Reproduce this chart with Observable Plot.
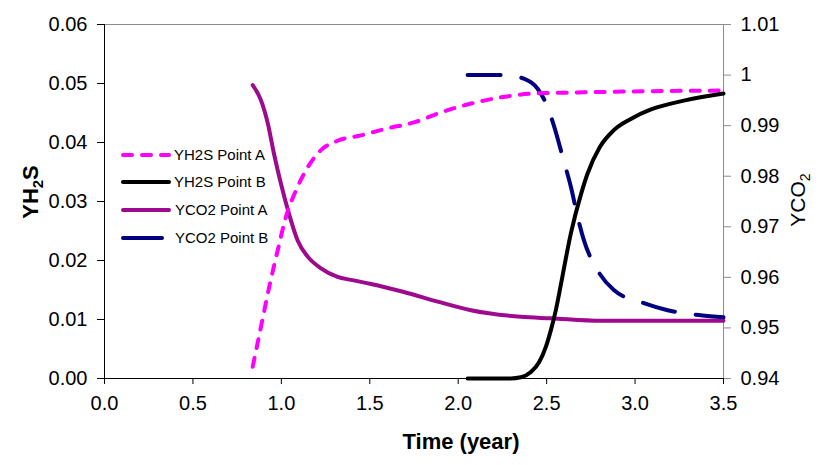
<!DOCTYPE html>
<html><head><meta charset="utf-8">
<script src="https://cdn.jsdelivr.net/npm/d3@7"></script>
<script src="https://cdn.jsdelivr.net/npm/@observablehq/plot@0.6"></script>
<style>html,body{margin:0;padding:0;background:#fff}</style>
</head><body><div id="chart"></div>
<script>
// ---- data ----
const xTicks = [0, 0.5, 1, 1.5, 2, 2.5, 3, 3.5];
const leftTicks = [0, 0.01, 0.02, 0.03, 0.04, 0.05, 0.06];
const rightTicks = [0.94, 0.95, 0.96, 0.97, 0.98, 0.99, 1.0, 1.01];

// YH2S Point A (left axis)
const h2sA_t = [0.838, 0.885, 0.932, 0.979, 1.026, 1.083, 1.149, 1.224, 1.318, 1.450, 1.601, 1.750, 1.902, 2.072, 2.145, 2.428, 2.711, 3.09, 3.5];
const h2sA_y = [0.0020, 0.0088, 0.0156, 0.0217, 0.0274, 0.0319, 0.0358, 0.0387, 0.0403, 0.0412, 0.0424, 0.0434, 0.0451, 0.0466, 0.0471, 0.0483, 0.0485, 0.0487, 0.0488];
// YH2S Point B (left axis)
const h2sB_t = [2.053, 2.297, 2.354, 2.411, 2.458, 2.496, 2.524, 2.552, 2.581, 2.637, 2.694, 2.731, 2.800, 2.880, 2.976, 3.090, 3.276, 3.5];
const h2sB_y = [0.0000, 0.0000, 0.0002, 0.0011, 0.0028, 0.0054, 0.0082, 0.0116, 0.0160, 0.0246, 0.0312, 0.0347, 0.0392, 0.0421, 0.0440, 0.0456, 0.0471, 0.0483];
// YCO2 Point A (right axis)
const co2A_t = [0.838, 0.885, 0.923, 0.958, 0.997, 1.042, 1.092, 1.149, 1.224, 1.318, 1.393, 1.507, 1.693, 1.884, 2.072, 2.354, 2.524, 2.807, 3.5];
const co2A_y = [0.9980, 0.9950, 0.9905, 0.9845, 0.9786, 0.9727, 0.9673, 0.9641, 0.9618, 0.9601, 0.9595, 0.9587, 0.9571, 0.9552, 0.9535, 0.9522, 0.9519, 0.9514, 0.9514];
// YCO2 Point B (right axis)
const co2B_t = [2.053, 2.258, 2.371, 2.449, 2.505, 2.541, 2.597, 2.637, 2.675, 2.711, 2.788, 2.880, 3.050, 3.184, 3.371, 3.5];
const co2B_y = [1.0000, 1.0000, 0.9993, 0.9973, 0.9937, 0.9900, 0.9830, 0.9779, 0.9720, 0.9673, 0.9614, 0.9575, 0.9549, 0.9535, 0.9525, 0.9521];

const seriesNames = ["YH2S Point A", "YH2S Point B", "YCO2 Point A", "YCO2 Point B"];

// ---- mapping of right axis onto left scale ----
const L0 = 0, L1 = 0.06, R0 = 0.94, R1 = 1.01;
const toLeft = v => L0 + (v - R0) * (L1 - L0) / (R1 - R0);
const fromLeft = v => R0 + (v - L0) * (R1 - R0) / (L1 - L0);

const mk = (ts, ys, f = v => v) => ts.map((t, i) => ({t, v: f(ys[i])}));
const dA = mk(h2sA_t, h2sA_y);
const dB = mk(h2sB_t, h2sB_y);
const cA = mk(co2A_t, co2A_y, toLeft);
const cB = mk(co2B_t, co2B_y, toLeft);

const C = {mag: "#ff00ff", blk: "#000000", pur: "#9e0a8e", navy: "#000080", gray: "#8c8c8c"};
const styles = [
  {stroke: C.mag, strokeDasharray: "9,10", strokeLinecap: "round"},
  {stroke: C.blk},
  {stroke: C.pur},
  {stroke: C.navy, strokeDasharray: "33,21", strokeLinecap: "round"}
];

const font = "'Liberation Sans', Arial, sans-serif";

const plot = Plot.plot({
  width: 825, height: 465,
  marginLeft: 104, marginRight: 102, marginTop: 24, marginBottom: 87,
  style: {fontFamily: font, fontSize: "20px", color: "#000", background: "#fff", overflow: "visible"},
  x: {domain: [0, 3.5]},
  y: {domain: [L0, L1]},
  marks: [
    Plot.ruleY([L1], {stroke: C.gray, strokeWidth: 1}),
    Plot.ruleX([3.5], {stroke: C.gray, strokeWidth: 1}),
    Plot.axisY(rightTicks.map(toLeft), {anchor: "right", tickSize: 7, tickPadding: 10, stroke: C.gray, fill: "#000",
      tickFormat: d => String(+fromLeft(d).toFixed(2)), label: null}),
    Plot.axisY(leftTicks, {anchor: "left", tickSize: 7, tickPadding: 10, tickFormat: d => d.toFixed(2), label: null}),
    Plot.axisX(xTicks, {anchor: "bottom", tickSize: 6, tickPadding: 11, tickFormat: d => d.toFixed(1), label: null}),
    Plot.ruleX([0], {stroke: "#000"}),
    Plot.ruleY([0], {stroke: "#000"}),
    Plot.line(cA, {x: "t", y: "v", curve: "monotone-x", strokeWidth: 4, ...styles[2]}),
    Plot.line(cB, {x: "t", y: "v", curve: "monotone-x", strokeWidth: 4, ...styles[3]}),
    Plot.line(dA, {x: "t", y: "v", curve: "monotone-x", strokeWidth: 4, ...styles[0]}),
    Plot.line(dB, {x: "t", y: "v", curve: "monotone-x", strokeWidth: 4, ...styles[1]})
  ]
});

document.getElementById("chart").appendChild(plot);

// ---- titles & legend ----
const svg = d3.select(plot);
// left title
const lt = svg.append("text").attr("transform", "translate(38,192) rotate(-90)")
  .attr("text-anchor", "middle").attr("font-family", font).attr("font-size", 22).attr("font-weight", "bold").attr("fill", "#000");
lt.append("tspan").text("YH");
lt.append("tspan").attr("font-size", 15).attr("dy", 5).text("2");
lt.append("tspan").attr("dy", -5).text("S");
// right title
const rt = svg.append("text").attr("transform", "translate(805,200) rotate(-90)")
  .attr("text-anchor", "middle").attr("font-family", font).attr("font-size", 21).attr("fill", "#000");
rt.append("tspan").text("YCO");
rt.append("tspan").attr("font-size", 14).attr("dy", 5).text("2");
// bottom title
svg.append("text").attr("x", 461).attr("y", 449).attr("text-anchor", "middle")
  .attr("font-family", font).attr("font-size", 22).attr("font-weight", "bold").attr("fill", "#000").text("Time (year)");

// legend
const leg = svg.append("g");
const rowY = [155, 182, 210, 238];
seriesNames.forEach((name, i) => {
  const s = styles[i];
  leg.append("line").attr("x1", 123).attr("x2", i === 3 ? 162 : 169).attr("y1", rowY[i]).attr("y2", rowY[i])
    .attr("stroke", s.stroke).attr("stroke-width", 4)
    .attr("stroke-dasharray", i === 0 ? "9,10" : null).attr("stroke-linecap", "round");
  leg.append("text").attr("x", i >= 2 ? 175 : 174).attr("y", rowY[i]).attr("dy", "0.35em")
    .attr("text-anchor", "start")
    .attr("font-family", font).attr("font-size", 15).attr("fill", "#000").text(name);
});
</script></body></html>
